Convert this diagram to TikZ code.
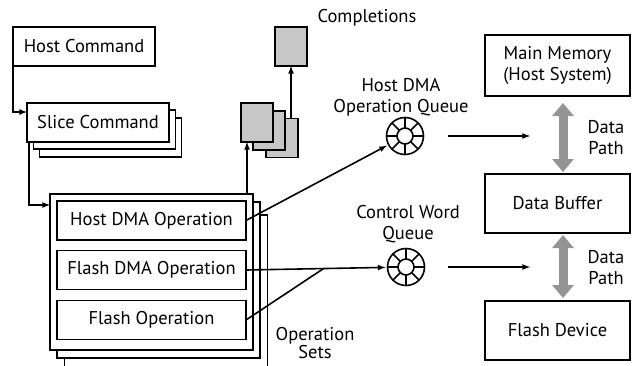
\documentclass[tikz,border=0pt]{standalone}
\usepackage{fontspec}
\setmainfont{PT Sans}
\usetikzlibrary{arrows.meta, calc}

\begin{document}
\begin{tikzpicture}[x=1pt, y=-1pt, line width=1.6pt, font=\fontsize{18.5}{21}\selectfont,
	every node/.style={align=center},
	box/.style={draw, fill=white, inner sep=0pt, outer sep=0pt, minimum width=#1, minimum height=39pt},
	box/.default=142pt,
	doc/.style={draw, fill=black!22, inner sep=0pt, outer sep=0pt, minimum width=32pt, minimum height=39pt},
	queue/.style={draw, circle, inner sep=0pt, outer sep=0pt, minimum size=37pt},
	datapath/.style={draw=black!42, line width=9pt, {Triangle[width=21pt,length=13pt]}-{Triangle[width=21pt,length=13pt]}}]
	\useasboundingbox (0,0) rectangle (632,365);

	% commands
	\node[box] (host) at (84,46.5) {Host Command};
	\node[box] (slice3) at (110.5,137.5) {};
	\node[box] (slice2) at (104.5,129.5) {};
	\node[box] (slice) at (98,122.5) {Slice Command};
	\draw[-latex] (host.south west) |- ([yshift=10.5pt]slice.west);

	% operation sets
	\node[box=203pt, minimum height=156pt] (opset3) at (166,293) {};
	\node[box=203pt, minimum height=156pt] (opset2) at (158.5,280) {};
	\node[box=203pt, minimum height=156pt] (opset) at (151.5,272) {};
	\node[box=189pt] (hostdma) at (151.5,220.5) {Host DMA Operation};
	\node[box=189pt] (fdma) at (151.5,270) {Flash DMA Operation};
	\node[box=189pt] (fop) at (151.5,320) {Flash Operation};
	\node[font=\fontsize{18.5}{18}\selectfont] (opsetlabel) at (315,343) {Operation\\Sets};
	\draw[-latex] ([xshift=2pt]slice.south west) |- ([yshift=67pt]opset.west);

	% completions
	\node[doc] (done) at (291,46.5) {};
	\node[doc] (cmpl3) at (282,138) {};
	\node[doc] (cmpl2) at (269,130.5) {};
	\node[doc] (cmpl1) at (257,122.5) {};
	\node (cmpllabel) at (367,18) {Completions};
	\draw[-latex] ([xshift=-10pt]cmpl1.south |- opset.north) -- ([xshift=-10pt]cmpl1.south);
	\draw[-latex] (cmpl3.north -| done.south) -- (done.south);

	% queues
	\node[queue] (hq) at (405,136) {};
	\node[queue] (cq) at (406,267) {};
	\foreach \q in {hq, cq} {
		\draw (\q.center) circle (8pt);
		\foreach \a in {0,45,...,315}
			\draw (\q.center) ++(\a:8pt) -- ++(\a:10.5pt);
	}
	\node (hqlabel) at (401,97) {Host DMA\\Operation Queue};
	\node (cqlabel) at (408,224) {Control Word\\Queue};
	\draw[-latex, shorten >=2pt] (hostdma.east) -- (hq);
	\draw[-latex, shorten >=2pt] (fdma.east) -- (cq);
	\draw (fop.east) -- ($(fdma.east)!0.55!(cq.west)$);

	% memory side
	\node[box=145pt, minimum height=61pt] (mem) at (557.5,65.5) {Main Memory\\(Host System)};
	\node[box=145pt, minimum height=59pt] (buf) at (557.5,203.5) {Data Buffer};
	\node[box=145pt, minimum height=59pt] (flash) at (557.5,330.5) {Flash Device};
	\coordinate (qend) at (530,0);
	\draw[-latex] ([xshift=24pt]hq.east) -- (qend |- hq);
	\draw[-latex] ([xshift=23pt]cq.east) -- (qend |- cq);
	\draw[datapath] ([xshift=5.5pt,yshift=-7pt]mem.south) -- ([xshift=5.5pt,yshift=2pt]buf.north);
	\draw[datapath] ([xshift=5.5pt,yshift=-2pt]buf.south) -- ([xshift=5.5pt,yshift=3pt]flash.north);
	\node (dp1) at (606,138) {Data\\Path};
	\node (dp2) at (606,268) {Data\\Path};
\end{tikzpicture}
\end{document}
